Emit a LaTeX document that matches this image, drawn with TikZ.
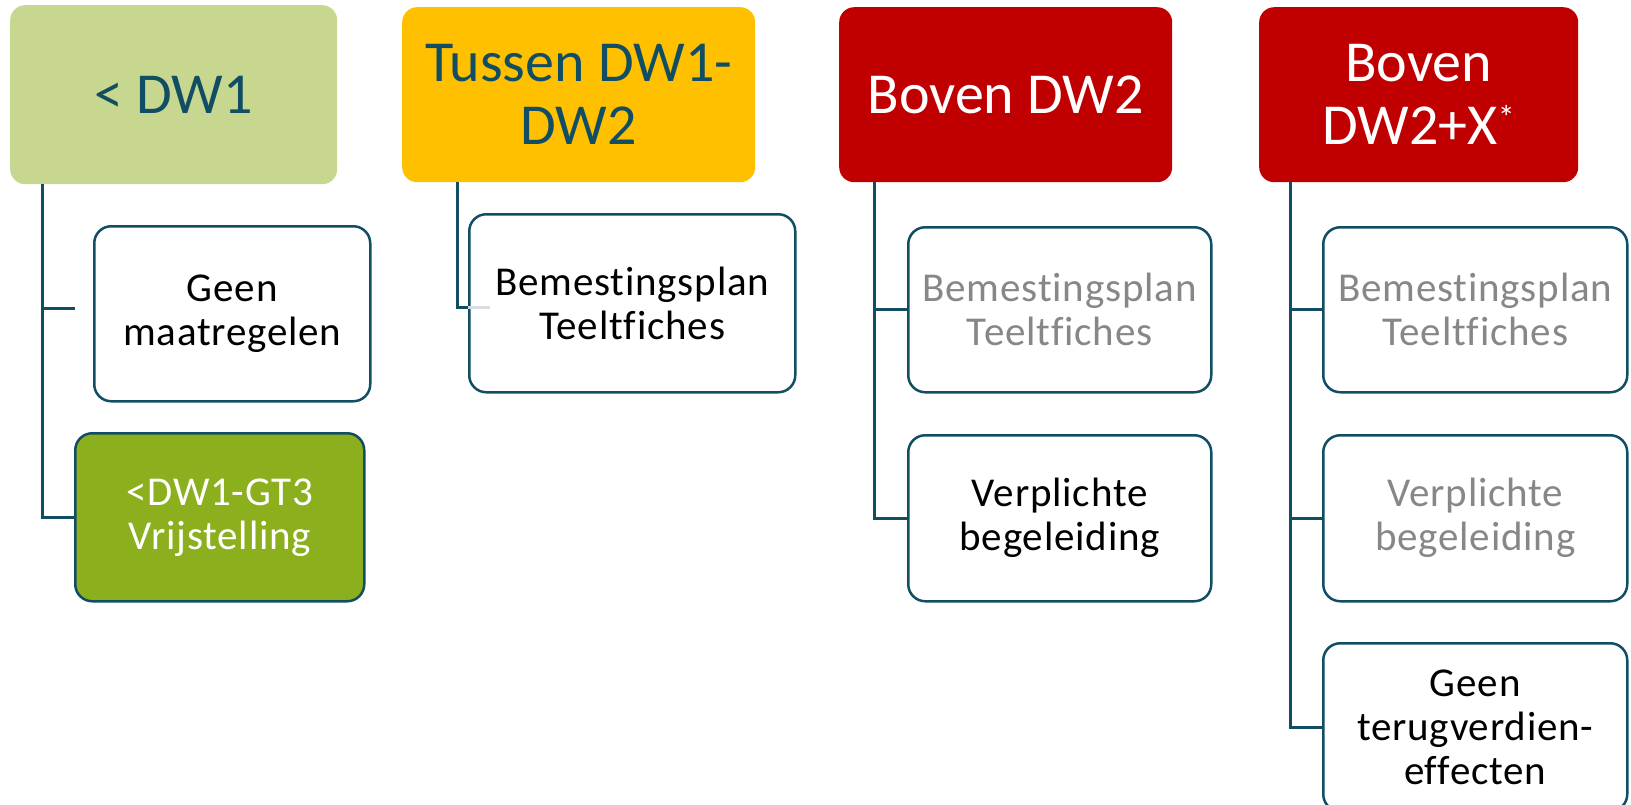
\documentclass[tikz,border=0pt]{standalone}
\usepackage{fontspec}
\setmainfont{Carlito}[Ligatures=NoCommon]
\newfontfamily\childfont{Carlito}[Ligatures=NoCommon, LetterSpace=2]
\definecolor{teal}{HTML}{124E63}
\definecolor{hdrgreen}{HTML}{C7D78F}
\definecolor{hdramber}{HTML}{FFC000}
\definecolor{hdrred}{HTML}{C00000}
\definecolor{olive}{HTML}{8CAF1E}
\definecolor{greytxt}{HTML}{878787}
\definecolor{lightline}{HTML}{D6DEE2}
\tikzset{
  hdr/.style={rounded corners=15pt, anchor=north west, align=center, inner sep=0pt,
    font=\fontsize{58}{63}\selectfont},
  child/.style={rounded corners=17pt, anchor=north west, align=center, inner sep=0pt,
    draw=teal, line width=2.5pt, fill=white, font=\childfont\fontsize{41}{44}\selectfont},
  conn/.style={draw=teal, line width=3pt},
}
\begin{document}
\begin{tikzpicture}[x=1pt,y=-1pt]
\useasboundingbox (0,0) rectangle (1631,804);
\clip (0,0) rectangle (1631,804);
% headers
\node[hdr, fill=hdrgreen, text=teal, minimum width=327pt, minimum height=179pt] (h1) at (10,5) {< DW1};
\node[hdr, fill=hdramber, text=teal, minimum width=353pt, minimum height=175pt] (h2) at (402,7) {Tussen DW1-\\DW2};
\node[hdr, fill=hdrred, text=white, minimum width=333pt, minimum height=175pt] (h3) at (839,7) {Boven DW2};
\node[hdr, fill=hdrred, text=white, minimum width=319pt, minimum height=175pt] (h4) at (1259,7) {Boven\\DW2+X\raisebox{15pt}{\fontsize{34}{34}\selectfont *}};
% column 1
\node[child, minimum width=276pt, minimum height=175pt] (c11) at (93,225) {Geen\\maatregelen};
\node[child, fill=olive, text=white, minimum width=289pt, minimum height=168pt] (c12) at (74,432) {<DW1-GT3\\Vrijstelling};
% column 2
\node[child, minimum width=326pt, minimum height=178pt] (c21) at (468,213) {Bemestingsplan\\Teeltfiches};
% column 3
\node[child, text=greytxt, minimum width=303pt, minimum height=165pt] (c31) at (907,226) {Bemestingsplan\\Teeltfiches};
\node[child, minimum width=303pt, minimum height=166pt] (c32) at (907,434) {Verplichte\\begeleiding};
% column 4
\node[child, text=greytxt, minimum width=304pt, minimum height=165pt] (c41) at (1322,226) {Bemestingsplan\\Teeltfiches};
\node[child, text=greytxt, minimum width=304pt, minimum height=166pt] (c42) at (1322,434) {Verplichte\\begeleiding};
\node[child, minimum width=304pt, minimum height=168pt] (c43) at (1322,642) {Geen\\terugverdien-\\effecten};
% trunk coordinates
\coordinate (t1) at (42,0);
\coordinate (t2) at (457,0);
\coordinate (t3) at (874,0);
\coordinate (t4) at (1290,0);
\coordinate (e1) at (75,308);
\coordinate (e2) at (490,307);
% connectors
\draw[conn] (h1.south -| t1) |- (e1);
\draw[conn] (h1.south -| t1) |- (c12.west);
\draw[draw=lightline, line width=3pt] (c21.west |- e2) -- (e2);
\draw[conn] (h2.south -| t2) |- (c21.west |- e2);
\draw[conn] (h3.south -| t3) |- (c31.west);
\draw[conn] (h3.south -| t3) |- (c32.west);
\draw[conn] (h4.south -| t4) |- (c41.west);
\draw[conn] (h4.south -| t4) |- (c42.west);
\draw[conn] (h4.south -| t4) |- (c43.west);
\end{tikzpicture}
\end{document}
